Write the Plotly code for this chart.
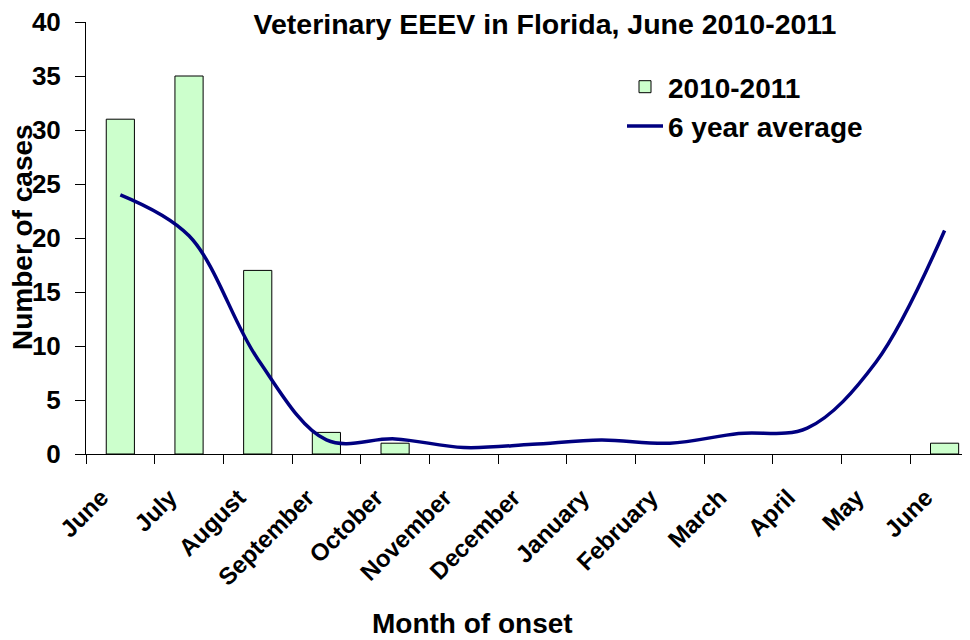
import plotly.graph_objects as go

months = ["June", "July", "August", "September", "October", "November",
          "December", "January", "February", "March", "April", "May", "June"]
cases_2010_2011 = [31, 35, 17, 2, 1, 0, 0, 0, 0, 0, 0, 0, 1]
six_year_average = [24.0, 20.2, 8.8, 1.3, 1.4, 0.6, 0.9, 1.3, 1.0, 1.9, 2.4, 8.5, 20.7]
y_ticks = [0, 5, 10, 15, 20, 25, 30, 35, 40]

positions = list(range(len(months)))
boundaries = [p - 0.5 for p in positions] + [positions[-1] + 0.5]
bar_values = [v if v else None for v in cases_2010_2011]

FONT = "Liberation Sans, Arial, sans-serif"
xrange = [-0.5, 12.37]
yrange = [0, 40]

# page body has an 8px margin: figure is drawn at (8, 8)
W, H = 962, 632

fig = go.Figure()
fig.add_trace(go.Bar(
    x=positions, y=bar_values, name="2010-2011",
    width=0.41,
    marker=dict(color="#CCFFCC", line=dict(color="black", width=1)),
    legendgroup="a",
))
fig.add_trace(go.Scatter(
    x=positions, y=six_year_average, name="6 year average",
    mode="lines", line=dict(color="#000080", width=3.5, shape="spline", smoothing=1.0),
    legendgroup="b",
))

fig.update_layout(
    width=W, height=H,
    margin=dict(l=78, r=0, t=14, b=186),
    paper_bgcolor="white", plot_bgcolor="white",
    font=dict(family=FONT, color="black"),
    title=dict(text="Veterinary EEEV in Florida, June 2010-2011",
               x=(545 - 8) / W, xanchor="center", y=1 - (24 - 8) / H, yanchor="middle",
               font=dict(size=28.5, weight="bold", family=FONT, color="black")),
    showlegend=True,
    legend=dict(x=(622 - 86) / 884, y=(454 - 62) / 432, xanchor="left", yanchor="top",
                font=dict(size=28, weight="bold", family=FONT, color="black"),
                bgcolor="rgba(0,0,0,0)", traceorder="grouped", tracegroupgap=0,
                itemwidth=36),
    xaxis=dict(range=xrange, tickmode="array", tickvals=positions, ticktext=months,
               tickangle=-45, ticks="", showline=True, linecolor="black", linewidth=1,
               showgrid=False, zeroline=False, ticklabeloverflow="allow",
               tickfont=dict(size=24, weight="bold", family=FONT, color="black"),
               ticklabelstandoff=19, ticklabelshift=-19,
               minor=dict(tickmode="array", tickvals=boundaries, ticks="outside",
                          ticklen=9, tickcolor="black", tickwidth=1, showgrid=False)),
    xaxis2=dict(range=xrange, overlaying="x", anchor="y", side="bottom",
                tickmode="array", tickvals=boundaries, ticks="inside", ticklen=10,
                tickcolor="black", showticklabels=False, showline=False,
                showgrid=False, zeroline=False),
    yaxis=dict(range=yrange, tickmode="array", tickvals=y_ticks, ticks="outside",
               ticklen=10, tickcolor="black", showline=True, linecolor="black",
               linewidth=1, showgrid=False, zeroline=False, ticklabeloverflow="allow",
               tickfont=dict(size=26, weight="bold", family=FONT, color="black"),
               ticklabelstandoff=9),
    yaxis2=dict(range=yrange, overlaying="y", anchor="x", side="left",
                tickmode="array", tickvals=y_ticks, ticks="inside", ticklen=10,
                tickcolor="black", showticklabels=False, showline=False,
                showgrid=False, zeroline=False),
    annotations=[
        dict(text="Number of cases", textangle=-90, xref="paper", yref="paper",
             x=(22 - 86) / 884, y=(454 - 237) / 432, xanchor="center", yanchor="middle",
             showarrow=False, font=dict(size=28, weight="bold", family=FONT, color="black")),
        dict(text="Month of onset", xref="paper", yref="paper",
             x=(472 - 86) / 884, y=(454 - 623) / 432, xanchor="center", yanchor="middle",
             showarrow=False, font=dict(size=28, weight="bold", family=FONT, color="black")),
    ],
)

fig.write_html("out.html")
